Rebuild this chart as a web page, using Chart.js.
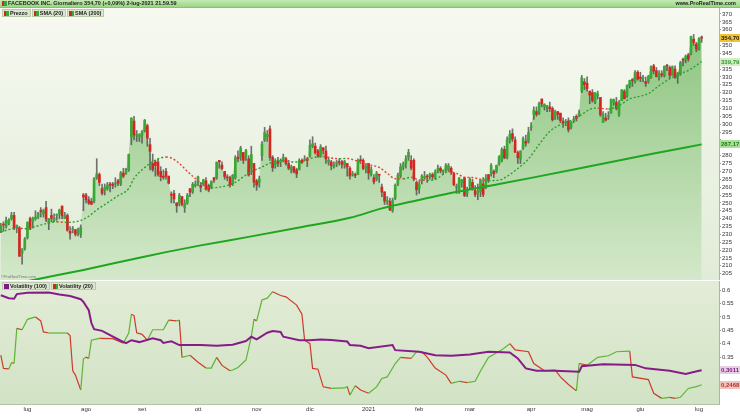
<!DOCTYPE html>
<html>
<head>
<meta charset="utf-8">
<script src="https://cdn.jsdelivr.net/npm/chart.js@4.4.1/dist/chart.umd.min.js"></script>
<style>
  html, body { margin: 0; padding: 0; background: #fff; }
  #wrap { position: relative; width: 740px; height: 416px; overflow: hidden; font-family: "Liberation Sans", Arial, sans-serif; }
  #head { position: absolute; left: 0; top: 0; width: 740px; height: 7px; background: linear-gradient(#c4eab2, #9ad685); border-bottom: 1px solid #86c472; font-size: 5.5px; font-weight: bold; line-height: 7px; color: #1e1e1e; }
  #head .ttl { position: absolute; left: 2px; top: 0; display: flex; align-items: center; }
  #head .site { position: absolute; right: 4px; top: 0; }
  .sw { display: inline-block; width: 5px; height: 5px; margin-right: 1px; background: linear-gradient(90deg, #d3261f 50%, #3aa934 50%); }
  .sw.pur { background: #7d1a7f; }
  .legrow { position: absolute; left: 2px; display: flex; gap: 1px; }
  .item { display: flex; align-items: center; height: 6px; padding: 0 2px 0 1px; background: #dbe6ce; border: 1px solid #b9cbab; font-size: 5.5px; font-weight: bold; line-height: 6px; color: #222; }
  #legP { top: 9px; }
  #legV { top: 282px; }
  #wm { position: absolute; left: 1px; top: 274px; font-size: 4px; color: #6d7a66; }
  canvas { position: absolute; left: 0; }
  #priceCanvas { top: 8px; }
  #volCanvas { top: 280px; }
</style>
</head>
<body>
<div id="wrap">
  <canvas id="priceCanvas" width="740" height="272"></canvas>
  <canvas id="volCanvas" width="740" height="136"></canvas>
  <div id="head">
    <div class="ttl"><i class="sw"></i>FACEBOOK INC. Giornaliero 354,70 (+0,09%) 2-lug-2021 21.59.59</div>
    <div class="site">www.ProRealTime.com</div>
  </div>
  <div id="legP" class="legrow">
    <span class="item"><i class="sw"></i>Prezzo</span>
    <span class="item"><i class="sw"></i>SMA (20)</span>
    <span class="item"><i class="sw"></i>SMA (200)</span>
  </div>
  <div id="wm">©ProRealTime.com</div>
  <div id="legV" class="legrow">
    <span class="item"><i class="sw pur"></i>Volatility (100)</span>
    <span class="item"><i class="sw"></i>Volatility (20)</span>
  </div>
</div>

<script>
/* ── DATA: daily candles, 17-giu-2020 .. 2-lug-2021 (index = trading day) ── */

const opens = [
  232,236,235,237,240,242,234,234,218,221, 228,240,238,240,241,245,243,247,237,242,
  239,242,243,248,240,242,232,233,233,231, 230,255,255,252,251,251,266,268,259,258,
  259,262,262,262,264,262,269,269,271,292, 302,293,292,293,296,299,287,275,276,276,
  270,267,270,267,255,256,250,250,254,247, 250,259,257,261,263,261,262,264,261,260,
  266,266,277,274,270,266,266,262,266,279, 279,282,279,278,272,275,264,263,280,290,
  292,297,279,274,277,276,278,278,275,271, 273,271,271,277,277,278,280,286,286,283,
  280,285,283,276,276,273,275,276,276,274, 275,272,268,268,268,277,277,272,275,268,
  266,265,268,260,257,251,251,245,253,262, 267,273,275,279,277,277,263,259,264,266,
  267,267,268,266,270,272,270,271,271,272, 269,260,258,263,266,256,261,263,258,256,
  257,262,261,268,269,270,270,275,277,284, 279,290,294,290,282,278,285,289,289,298,
  306,308,307,316,311,311,311,310,305,308, 307,302,301,302,298,302,305,306,321,327,
  326,321,320,314,318,317,301,304,305,307, 314,314,306,315,321,318,325,328,327,333,
  330,329,327,327,330,337,334,330,332,331, 337,336,331,335,330,332,341,341,344,345,
  354,351,348,355
];
const highs = [
  237,238,241,240,244,244,236,235,221,228, 238,241,241,245,244,247,246,251,240,246,
  243,243,246,248,244,243,235,235,233,234, 236,256,256,254,253,266,278,269,262,262,
  263,263,263,266,265,270,272,272,281,304, 305,296,294,296,303,300,291,281,277,278,
  273,271,272,267,257,258,250,256,254,252, 256,259,263,264,267,263,265,266,262,264,
  266,276,277,276,270,268,267,268,280,283, 286,282,284,280,286,275,265,267,289,298,
  296,299,280,278,279,278,281,279,277,274, 273,272,278,278,280,279,290,292,288,284,
  287,285,286,279,277,276,277,278,277,277, 275,273,270,269,278,280,278,275,275,273,
  268,270,268,262,257,254,253,253,262,269, 275,276,280,284,280,278,264,264,268,270,
  268,269,269,271,274,273,271,275,275,273, 269,262,266,265,266,260,266,265,261,262,
  265,266,268,268,275,271,274,280,285,286, 292,296,297,292,283,283,292,293,298,301,
  311,311,314,316,313,312,314,311,309,308, 307,304,303,304,302,305,306,309,331,329,
  330,321,322,320,321,317,308,307,308,316, 316,317,315,322,322,325,328,329,334,334,
  333,331,330,331,337,338,336,334,334,337, 338,337,337,337,333,340,342,344,345,356,
  357,352,355,356
];
const lows = [
  231,232,234,236,239,233,231,216,211,220, 227,233,234,239,240,241,241,238,233,238,
  238,239,240,240,240,232,227,231,229,229, 228,245,250,249,249,250,265,261,255,255,
  258,257,259,260,261,261,266,268,270,287, 290,289,289,288,295,286,271,270,267,267,
  264,265,265,262,250,250,244,248,248,244, 249,254,256,260,261,257,261,258,257,259,
  263,265,272,271,265,264,260,261,265,276, 277,275,277,267,268,260,258,260,277,289,
  289,277,270,272,273,273,276,274,271,269, 269,266,271,275,277,273,279,285,281,279,
  279,281,275,274,271,272,273,274,272,272, 267,265,267,266,268,275,271,269,265,267,
  262,264,263,254,249,249,245,244,252,261, 266,271,272,277,271,264,255,256,262,265,
  263,265,265,265,269,269,268,270,270,268, 261,256,256,260,254,254,259,258,254,252,
  254,254,259,263,267,266,269,274,276,278, 278,288,289,282,275,275,284,286,288,296,
  303,305,306,311,309,308,308,302,303,303, 301,298,299,295,297,301,302,305,320,322,
  321,313,314,313,316,305,301,302,303,307, 312,309,305,315,316,317,323,324,326,328,
  327,327,324,326,329,332,330,328,330,330, 334,329,331,329,326,331,337,339,340,344,
  350,346,347,352
];
const closes = [
  235.5,235.9,238.8,239.2,242.2,234.0,235.7,216.1,220.6,227.1, 237.6,233.4,240.3,240.9,243.6,244.5,245.1,239.7,239.9,240.2,
  240.3,242.0,245.4,241.8,241.8,232.6,230.7,233.5,230.1,233.3, 234.5,253.7,252.0,249.8,249.1,265.3,268.4,263.0,256.1,259.9,
  261.3,261.2,261.2,262.3,262.6,269.0,267.0,271.4,280.8,303.9, 293.2,293.7,293.2,295.4,302.5,291.1,282.7,271.2,273.7,268.1,
  266.6,266.2,266.8,262.5,254.8,252.5,248.2,254.8,249.0,249.5, 254.8,256.8,261.8,261.9,266.6,259.9,264.7,258.7,258.1,263.8,
  264.5,275.8,276.1,271.8,266.7,265.9,261.4,267.6,278.7,278.1, 284.8,277.1,283.3,267.7,280.8,263.1,261.4,265.3,287.4,294.7,
  293.4,278.8,272.4,276.5,275.1,277.0,279.0,275.0,272.0,272.9, 269.7,268.4,276.9,275.6,277.8,277.0,286.6,287.5,281.9,279.7,
  285.6,283.4,277.9,277.1,273.6,274.2,275.6,275.7,274.5,276.4, 272.8,267.1,268.1,267.4,277.0,276.8,271.9,273.2,268.9,271.0,
  263.3,268.7,267.6,256.8,251.1,251.1,245.6,251.4,261.1,267.5, 272.9,274.5,278.0,282.1,272.1,265.0,258.3,262.0,267.1,266.7,
  266.5,268.1,266.6,269.5,271.9,270.4,270.5,274.0,273.6,269.4, 261.6,260.3,265.9,264.3,254.7,257.6,264.9,259.0,255.4,257.6,
  264.3,255.3,265.7,264.9,273.9,268.4,273.8,279.3,284.0,278.6, 290.1,293.5,290.6,282.1,278.7,283.0,290.8,288.0,294.5,298.7,
  308.9,306.3,313.1,313.0,312.5,311.5,309.8,302.8,307.8,306.2, 302.2,300.5,301.5,296.5,301.1,303.0,303.6,307.1,329.5,325.1,
  322.6,318.4,315.0,320.0,319.1,306.0,306.5,302.6,305.3,315.9, 315.5,310.0,313.6,321.7,316.2,324.6,327.8,327.7,332.8,328.7,
  329.1,329.2,326.0,330.4,336.6,333.7,330.3,332.5,331.3,336.8, 336.8,331.1,336.5,329.7,332.3,339.0,340.6,343.2,341.4,355.6,
  351.9,347.7,354.4,354.7
];

// SMA (20)
const sma20Days = [0,4,6,9,13,17,21,24,27,30, 33,36,40,44,48,50,53,56,59,62, 64,67,70,73,76,79,82,85,88,91,
  94,97,100,103,106,109,112,115,118,121, 124,127,130,133,136,139,142,145,148,151, 154,157,160,163,166,168,171,174,177,180,
  183,187,190,195,198,202,206,210,214,217, 221,224,228,232,236,240,243,247,251,255, 259,263];
const sma20 = [231.5,233.5,234.2,233.6,235.0,236.8,238.0,237.6,237.8,238.8, 241.5,245.5,250.0,254.5,259.1,265.6,271.0,275.0,278.0,279.1,
  278.5,275.0,270.0,265.5,261.5,259.5,260.0,261.0,263.0,266.5, 270.0,272.0,274.5,276.5,277.0,276.0,276.0,277.5,279.0,279.5,
  278.5,278.0,278.2,277.0,275.5,274.0,272.5,268.8,265.4,265.3, 266.3,264.5,264.3,264.9,268.1,269.9,268.7,266.3,266.1,265.0,
  264.1,264.5,266.9,273.2,277.9,287.1,295.4,299.7,302.4,305.0, 309.4,310.2,309.6,311.8,316.1,317.8,319.4,324.4,328.8,331.9,
  335.1,339.79];

// SMA (200)
const sma200Days = [0,14,31,49,62,75,93,112,131,143,156,168,187,200,215,230,245,263];
const sma200 = [196.8,201.6,207.4,214.0,218.7,223.0,228.4,234.3,240.5,246.5,251.5,256.0,262.0,266.2,271.2,276.3,281.3,287.17];

// Volatility (100) and Volatility (20)
const vol100Days = [0,3,5,6,10,18,22,26,30,31,33,34,35,38,41,45,47,49,52,57,60,61,64,67,75,81,87,92,94,96,
  100,102,105,106,112,116,120,124,130,131,135,138,147,148,157,163,169,176,183,191,194,197,201,208,217,218,226,238,242,251,
  257,262,263];
const vol100 = [0.581,0.570,0.568,0.585,0.590,0.591,0.584,0.578,0.566,0.556,0.525,0.477,0.454,0.448,0.432,0.411,0.402,0.413,0.406,0.420,
  0.413,0.403,0.409,0.395,0.395,0.392,0.396,0.410,0.426,0.416, 0.441,0.447,0.444,0.426,0.413,0.413,0.416,0.414,0.408,0.395,
  0.392,0.383,0.395,0.376,0.370,0.357,0.355,0.360,0.370,0.367, 0.345,0.308,0.299,0.299,0.295,0.316,0.323,0.321,0.308,0.299,
  0.287,0.299,0.3011];

const vol20Days = [0,1,3,4,5,6,8,10,13,15,16,18,25,26,27,28,30,31,32,33,34,37,42,46,48,49,50,51,53,55,
  57,61,63,66,67,68,71,74,77,79,81,83,86,87,89,92,94,95,96,98, 100,102,105,107,111,113,114,116,117,119,
  121,124,129,130,131,133,135,138,141,143,145,148,150,154,156,158,160,163,167,169, 172,175,178,180,183,188,191,193,198,200,
  204,208,210,213,216,217,220,224,228,231,236,237,243,245,248,251,253,255,258,261,263];
const vol20 = [0.357,0.308,0.306,0.329,0.327,0.457,0.452,0.491,0.500,0.485,0.444,0.440,0.440,0.430,0.299,0.283,0.227,0.343,0.350,0.345,
  0.413,0.420,0.419,0.402,0.440,0.510,0.505,0.441,0.435,0.413, 0.452,0.452,0.488,0.485,0.488,0.349,0.357,0.331,0.309,0.309,
  0.349,0.319,0.299,0.302,0.311,0.339,0.426,0.491,0.485,0.563, 0.570,0.594,0.580,0.575,0.544,0.510,0.413,0.400,0.308,0.305,
  0.239,0.233,0.235,0.240,0.208,0.243,0.227,0.215,0.239,0.270, 0.276,0.326,0.349,0.345,0.370,0.370,0.350,0.309,0.283,0.252,
  0.260,0.255,0.260,0.298,0.349,0.377,0.400,0.377,0.370,0.326, 0.299,0.302,0.276,0.248,0.224,0.326,0.320,0.349,0.355,0.370,
  0.372,0.276,0.266,0.215,0.196,0.200,0.196,0.200,0.233,0.240,0.2468];

// axis ticks
const priceTicks = [205,210,215,220,225,230,235,240,245,250,255,260,265,270,275,280,285,290,295,300,
  305,310,315,320,325,330,335,340,345,350,355,360,365,370];
const volTicks = [0.35,0.4,0.45,0.5,0.55,0.6];
const monthTicks  = [10,32,53,74,96,116,138,157,176,199,220,240,262];
const monthLabels = ['lug','ago','set','ott','nov','dic','2021','feb','mar','apr','mag','giu','lug'];

/* ── STYLE ─────────────────────────────────────────────── */
const UP = '#3aa934', DOWN = '#d3261f';
const X_MIN = -0.3, X_MAX = 269.5;
Chart.defaults.font.family = "'Liberation Sans', Arial, sans-serif";
Chart.defaults.animation = false;

const pts = (days, vals) => days.map((d, i) => ({ x: d, y: vals[i] }));
const slopeColor = (up, down) => c => (c.p1.parsed.y < c.p0.parsed.y ? down : up);
const fmt = (v, d) => v.toFixed(d).replace('.', ',');

// panel background gradient
const panelBg = {
  id: 'panelBg',
  beforeDraw(chart, args, opts) {
    const { ctx, chartArea: a } = chart;
    const g = ctx.createLinearGradient(0, a.top, 0, a.bottom);
    g.addColorStop(0, opts.top);
    g.addColorStop(1, opts.bottom);
    ctx.save();
    ctx.fillStyle = g;
    ctx.fillRect(a.left, a.top, a.right - a.left, a.bottom - a.top);
    ctx.restore();
  }
};

// last-value tags on the right axis
const valueTags = {
  id: 'valueTags',
  afterDraw(chart, args, opts) {
    const { ctx, chartArea: a, scales: { y } } = chart;
    ctx.save();
    ctx.font = "bold 6px 'Liberation Sans', Arial, sans-serif";
    ctx.textBaseline = 'middle';
    opts.tags.forEach(t => {
      const py = Math.round(y.getPixelForValue(t.value));
      ctx.fillStyle = t.bg;
      ctx.fillRect(a.right + 1, py - 4, 20, 8);
      ctx.fillStyle = t.fg;
      ctx.fillText(t.text, a.right + 2, py + 0.5);
    });
    ctx.restore();
  }
};

const priceTags = [
  { value: closes[closes.length - 1], text: fmt(closes[closes.length - 1], 2), bg: '#f1c232', fg: '#222' },
  { value: sma20[sma20.length - 1], text: fmt(sma20[sma20.length - 1], 2), bg: '#d6efc8', fg: '#2d9a2d' },
  { value: sma200[sma200.length - 1], text: fmt(sma200[sma200.length - 1], 2), bg: '#aede9c', fg: '#16801a' }
];
const volTags = [
  { value: vol100[vol100.length - 1], text: fmt(vol100[vol100.length - 1], 4), bg: '#e7cfe6', fg: '#7d1a7f' },
  { value: vol20[vol20.length - 1], text: fmt(vol20[vol20.length - 1], 4), bg: '#efc6bf', fg: '#c0302a' }
];

/* ── PRICE PANEL ───────────────────────────────────────── */
new Chart(document.getElementById('priceCanvas'), {
  type: 'bar',
  data: {
    datasets: [
      {
        type: 'line', label: 'SMA (20)',
        data: pts(sma20Days, sma20),
        borderWidth: 1.4, borderDash: [2, 2],
        borderColor: UP,
        segment: { borderColor: slopeColor('#2f9f2f', '#e2453b') },
        pointRadius: 0, cubicInterpolationMode: 'monotone', order: 1
      },
      {
        type: 'line', label: 'SMA (200)',
        data: pts(sma200Days, sma200),
        borderWidth: 2, borderColor: '#1fa61f',
        pointRadius: 0, cubicInterpolationMode: 'monotone', order: 2
      },
      {
        label: 'body',
        data: closes.map((c, i) => ({ x: i, y: [opens[i], c] })),
        backgroundColor: ctx => (closes[ctx.dataIndex] >= opens[ctx.dataIndex] ? UP : DOWN),
        barThickness: 2, minBarLength: 1, grouped: false, order: 3
      },
      {
        label: 'wick',
        data: closes.map((c, i) => ({ x: i, y: [lows[i], highs[i]] })),
        backgroundColor: 'rgba(70,70,70,0.75)',
        barThickness: 1, grouped: false, order: 4
      },
      {
        type: 'line', label: 'Prezzo',
        data: closes.map((c, i) => ({ x: i, y: c })),
        borderWidth: 0, pointRadius: 0, fill: 'start', order: 5,
        backgroundColor: ctx => {
          const a = ctx.chart.chartArea;
          if (!a) return 'rgba(0,0,0,0)';
          const g = ctx.chart.ctx.createLinearGradient(0, a.top, 0, a.bottom);
          g.addColorStop(0, '#86c279');
          g.addColorStop(1, '#d4e8ca');
          return g;
        }
      }
    ]
  },
  options: {
    responsive: false,
    devicePixelRatio: 1,
    layout: { padding: 0 },
    plugins: {
      legend: { display: false },
      tooltip: { enabled: false },
      panelBg: { top: '#f7f9f1', bottom: '#e1ecd8' },
      valueTags: { tags: priceTags }
    },
    scales: {
      x: { type: 'linear', min: X_MIN, max: X_MAX, offset: false, display: false },
      y: {
        position: 'right', min: 201.0, max: 373.8,
        afterBuildTicks: s => { s.ticks = priceTicks.map(v => ({ value: v })); },
        afterFit: s => { s.width = 21; s.paddingTop = 0; s.paddingBottom = 0; },
        ticks: {
          autoSkip: false, padding: 1, color: '#333', font: { size: 6 },
          callback: v => (priceTags.some(t => Math.abs(t.value - v) < 4) ? '' : String(v))
        },
        grid: { drawOnChartArea: false, tickLength: 2, color: '#999' },
        border: { color: '#a9b9a0' }
      }
    }
  },
  plugins: [panelBg, valueTags]
});

/* ── VOLATILITY PANEL ──────────────────────────────────── */
new Chart(document.getElementById('volCanvas'), {
  type: 'line',
  data: {
    datasets: [
      {
        label: 'Volatility (100)',
        data: pts(vol100Days, vol100),
        borderColor: '#861c88', borderWidth: 2, pointRadius: 0, order: 1
      },
      {
        label: 'Volatility (20)',
        data: pts(vol20Days, vol20),
        borderColor: '#5bb533', borderWidth: 1.2, pointRadius: 0, order: 2,
        segment: { borderColor: slopeColor('#5bb533', '#cc3b2c') }
      }
    ]
  },
  options: {
    responsive: false,
    devicePixelRatio: 1,
    layout: { padding: { top: 1 } },
    plugins: {
      legend: { display: false },
      tooltip: { enabled: false },
      panelBg: { top: '#e3ecd7', bottom: '#d2e3c5' },
      valueTags: { tags: volTags }
    },
    scales: {
      x: {
        type: 'linear', min: X_MIN, max: X_MAX,
        afterBuildTicks: s => { s.ticks = monthTicks.map(v => ({ value: v })); },
        afterFit: s => { s.height = 12; s.paddingLeft = 0; s.paddingRight = 0; },
        ticks: {
          autoSkip: false, maxRotation: 0, padding: 2, color: '#333', font: { size: 6 },
          callback: v => monthLabels[monthTicks.indexOf(v)] || ''
        },
        grid: { display: false, drawTicks: false },
        border: { color: '#b3c3a8' }
      },
      y: {
        position: 'right', min: 0.175, max: 0.634,
        afterBuildTicks: s => { s.ticks = volTicks.map(v => ({ value: v })); },
        afterFit: s => { s.width = 21; s.paddingTop = 0; s.paddingBottom = 0; },
        ticks: { autoSkip: false, padding: 1, color: '#333', font: { size: 6 }, callback: v => String(v) },
        grid: { drawOnChartArea: false, tickLength: 2, color: '#999' },
        border: { color: '#a9b9a0' }
      }
    }
  },
  plugins: [panelBg, valueTags]
});
</script>
</body>
</html>
